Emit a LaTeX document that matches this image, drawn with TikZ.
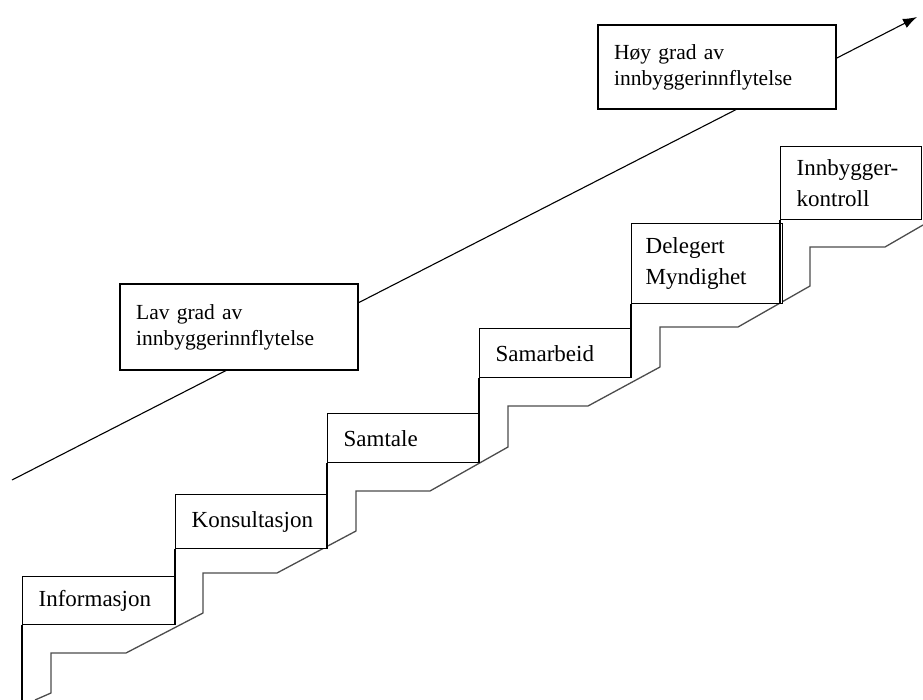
\documentclass[tikz,border=0pt]{standalone}
\usepackage{fontspec}
\setmainfont{Liberation Serif}
\usetikzlibrary{arrows.meta}
\tikzset{
	trinn/.style={draw, line width=1.3pt, fill=white, anchor=north west, align=left, inner xsep=16pt, inner ysep=0pt, font=\fontsize{23}{31}\selectfont},
	niva/.style={draw, line width=2.4pt, fill=white, anchor=north west, align=left, inner xsep=16pt, inner ysep=0pt, font=\fontsize{21.5}{26}\selectfont},
	trapp/.style={draw=black!70, line width=1.3pt, line join=miter}
}
\begin{document}
\begin{tikzpicture}[x=1pt, y=-1pt]
				\useasboundingbox (0,0) rectangle (923,700);
				\coordinate (start) at (12,480);
				\coordinate (slutt) at (917,17);
				\coordinate (bunn) at (0,700);
				
				\draw[line width=1.1pt, -{Latex[length=14pt,width=10pt]}] (start) -- (slutt);
				
				\node[niva, text width=206pt, minimum height=86pt] (lav) at (119,283) {Lav grad av\\innbyggerinnflytelse};
				\node[niva, text width=206pt, minimum height=84pt] (hoy) at (597,24) {Høy grad av\\innbyggerinnflytelse};
				
				\draw[trapp] (35,700) -- (51,693) -- (51,653) -- (126,653) -- (203,613) -- (203,573) -- (277,573)
					-- (356,531) -- (356,491) -- (430,491) -- (508,447) -- (508,406) -- (588,406)
					-- (660,367) -- (660,327) -- (738,327) -- (810,286) -- (810,247) -- (885,247) -- (923,225);
				
				\node[trinn, text width=120pt, minimum height=48pt] (informasjon) at (22,576) {Informasjon};
				\node[trinn, text width=120pt, minimum height=54pt] (konsultasjon) at (175,494) {Konsultasjon};
				\node[trinn, text width=119pt, minimum height=49pt] (samtale) at (327,413) {Samtale};
				\node[trinn, text width=120pt, minimum height=49pt] (samarbeid) at (479,328) {Samarbeid};
				\node[trinn, text width=119pt, minimum height=80pt, inner xsep=14pt, text width=123pt] (delegert) at (631,223) {Delegert\\Myndighet};
				\node[trinn, text width=109pt, minimum height=73pt] (innbygger) at (780,146) {Innbygger-\\kontroll};
				
				\draw[line width=1.3pt] (informasjon.south west) -- (informasjon.south west |- bunn);
				\draw[line width=1.3pt] (konsultasjon.south west) -- (konsultasjon.south west |- informasjon.south);
				\draw[line width=1.3pt] (samtale.south west) -- (samtale.south west |- konsultasjon.south);
				\draw[line width=1.3pt] (samarbeid.south west) -- (samarbeid.south west |- samtale.south);
				\draw[line width=1.3pt] (delegert.south west) -- (delegert.south west |- samarbeid.south);
				\draw[line width=1.3pt] (innbygger.south west) -- (innbygger.south west |- delegert.south);
\end{tikzpicture}
\end{document}
